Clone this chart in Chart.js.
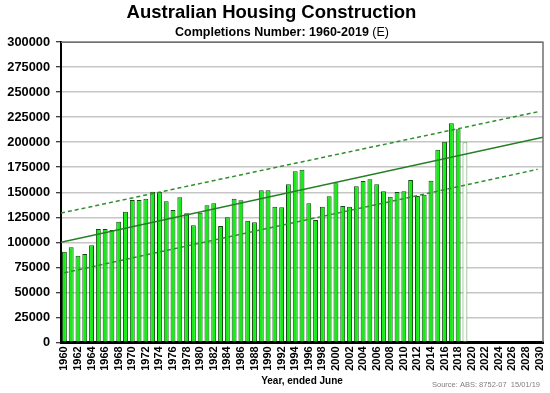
<!DOCTYPE html>
<html>
<head>
<meta charset="utf-8">
<script src="https://cdn.jsdelivr.net/npm/chart.js@4/dist/chart.umd.min.js"></script>
<style>
    body { margin: 0; background: #fff; }
    #wrap { width: 550px; height: 393px; position: relative; }
</style>
</head>
<body>
<div id="wrap"><canvas id="chart"></canvas></div>
<script>
const years = [
    '1960', '1961', '1962', '1963', '1964', '1965', '1966', '1967', '1968', '1969',
    '1970', '1971', '1972', '1973', '1974', '1975', '1976', '1977', '1978', '1979',
    '1980', '1981', '1982', '1983', '1984', '1985', '1986', '1987', '1988', '1989',
    '1990', '1991', '1992', '1993', '1994', '1995', '1996', '1997', '1998', '1999',
    '2000', '2001', '2002', '2003', '2004', '2005', '2006', '2007', '2008', '2009',
    '2010', '2011', '2012', '2013', '2014', '2015', '2016', '2017', '2018', '2019',
    '2020', '2021', '2022', '2023', '2024', '2025', '2026', '2027', '2028', '2029',
    '2030'
];

// completions per year ended June, 1960-2019 (2019 is an estimate)
const completions = [
    90600, 95000, 86600, 88300, 97000, 113300, 113300, 112300, 120600, 130600,
    142300, 142300, 143600, 150600, 150300, 141000, 132300, 145000, 129000, 117000,
    129600, 137000, 139000, 116300, 125000, 143600, 142000, 121600, 120000, 152000,
    152000, 135600, 135000, 158000, 171000, 172600, 139000, 122300, 135600, 146000,
    159000, 136300, 135600, 156000, 161300, 163000, 158000, 151000, 145600, 150300,
    151000, 162300, 146300, 147600, 161600, 192600, 200600, 219000, 213000, 200000
];
const estimateYear = '2019';

// trend line and band, end points [year, value]
const trendX = [1959.5, 2030.5];
const trendY = [100000, 205000];
const upperX = [1959.5, 2029.7];
const upperY = [129200, 230400];
const lowerX = [1960, 2029.7];
const lowerY = [69500, 172900];

const yTicks = [0, 25000, 50000, 75000, 100000, 125000, 150000, 175000, 200000, 225000, 250000, 275000, 300000];

const FONT = "'Liberation Sans', Arial, sans-serif";

const toPoints = (xs, ys) => xs.map((x, i) => ({x: x, y: ys[i]}));

const extras = {
    id: 'extras',
    afterDraw(chart) {
        const ctx = chart.ctx;
        const a = chart.chartArea;
        ctx.save();
        // plot frame, top and right
        ctx.strokeStyle = '#707070';
        ctx.lineWidth = 1.5;
        ctx.beginPath();
        ctx.moveTo(a.left, a.top);
        ctx.lineTo(a.right, a.top);
        ctx.lineTo(a.right, a.bottom);
        ctx.stroke();

        // subtitle, bold part plus regular (E)
        const boldFont = 'bold 12.5px ' + FONT;
        const normFont = '12.5px ' + FONT;
        const part1 = 'Completions Number: 1960-2019 ';
        const part2 = '(E)';
        ctx.font = boldFont;
        const w1 = ctx.measureText(part1).width;
        ctx.font = normFont;
        const w2 = ctx.measureText(part2).width;
        let x = 282 - (w1 + w2) / 2;
        ctx.fillStyle = '#000';
        ctx.textBaseline = 'middle';
        ctx.textAlign = 'left';
        ctx.font = boldFont;
        ctx.fillText(part1, x, 32.5);
        ctx.font = normFont;
        ctx.fillText(part2, x + w1, 32.5);

        // source note
        ctx.font = '7.5px ' + FONT;
        ctx.fillStyle = '#808080';
        ctx.textAlign = 'right';
        ctx.fillText('Source: ABS: 8752-07  15/01/19', 540, 385);
        ctx.restore();
    }
};

const trendStyle = {
    type: 'line',
    xAxisID: 'xt',
    pointRadius: 0,
    fill: false,
    order: 0,
};

new Chart(document.getElementById('chart'), {
    data: {
        labels: years,
        datasets: [
            {
                type: 'bar',
                label: 'Completions',
                data: completions,
                order: 1,
                grouped: false,
                backgroundColor: ctx => years[ctx.dataIndex] === estimateYear ? '#ffffff' : '#14ee14',
                borderColor: ctx => years[ctx.dataIndex] === estimateYear ? '#55a055' : '#124a12',
                borderWidth: 1,
                categoryPercentage: 1,
                barPercentage: 0.72,
            },
            {
                ...trendStyle,
                label: 'Trend',
                data: toPoints(trendX, trendY),
                borderColor: '#237f23',
                borderWidth: 1.3,
            },
            {
                ...trendStyle,
                label: 'Upper',
                data: toPoints(upperX, upperY),
                borderColor: '#2f8f2f',
                borderWidth: 1.5,
                borderDash: [4, 3],
            },
            {
                ...trendStyle,
                label: 'Lower',
                data: toPoints(lowerX, lowerY),
                borderColor: '#2f8f2f',
                borderWidth: 1.5,
                borderDash: [4, 3],
            },
        ]
    },
    options: {
        responsive: true,
        maintainAspectRatio: false,
        animation: false,
        layout: {
            padding: {left: 0, right: 7, top: 0, bottom: 0}
        },
        plugins: {
            legend: {display: false},
            tooltip: {enabled: false},
            title: {
                display: true,
                text: 'Australian Housing Construction',
                color: '#000',
                font: {family: FONT, size: 18.5, weight: 'bold', lineHeight: 1.2},
                padding: {top: 2, bottom: 18},
            },
        },
        scales: {
            x: {
                type: 'category',
                offset: true,
                grid: {display: true, drawOnChartArea: false, drawTicks: false},
                border: {display: true, color: '#000', width: 3},
                ticks: {
                    autoSkip: false,
                    minRotation: 90,
                    maxRotation: 90,
                    padding: 4,
                    color: '#000',
                    font: {family: FONT, size: 11, weight: 'bold'},
                    callback: function (v, i) {
                        return i % 2 === 0 ? this.getLabelForValue(v) : '';
                    }
                },
                title: {
                    display: true,
                    text: 'Year, ended June',
                    color: '#000',
                    font: {family: FONT, size: 10, weight: 'bold', lineHeight: 1.2},
                    padding: {top: 0, bottom: 6},
                },
                afterFit(scale) {
                    scale.height = 50.7;
                    scale.paddingLeft = 0;
                    scale.paddingRight = 0;
                }
            },
            xt: {
                type: 'linear',
                display: false,
                min: 1959.5,
                max: 2030.5,
            },
            y: {
                min: 0,
                max: 300000,
                afterBuildTicks(scale) {
                    scale.ticks = yTicks.map(v => ({value: v}));
                },
                grid: {
                    color: '#c6c6c6',
                    lineWidth: 1.5,
                    tickLength: 5,
                    tickColor: '#000',
                    tickWidth: 1,
                },
                border: {display: true, color: '#000', width: 2},
                ticks: {
                    padding: 6,
                    color: '#000',
                    font: {family: FONT, size: 12.8, weight: 'bold'},
                    callback: v => String(v),
                },
                afterFit(scale) {
                    scale.width = 61;
                }
            }
        }
    },
    plugins: [extras]
});
</script>
</body>
</html>
